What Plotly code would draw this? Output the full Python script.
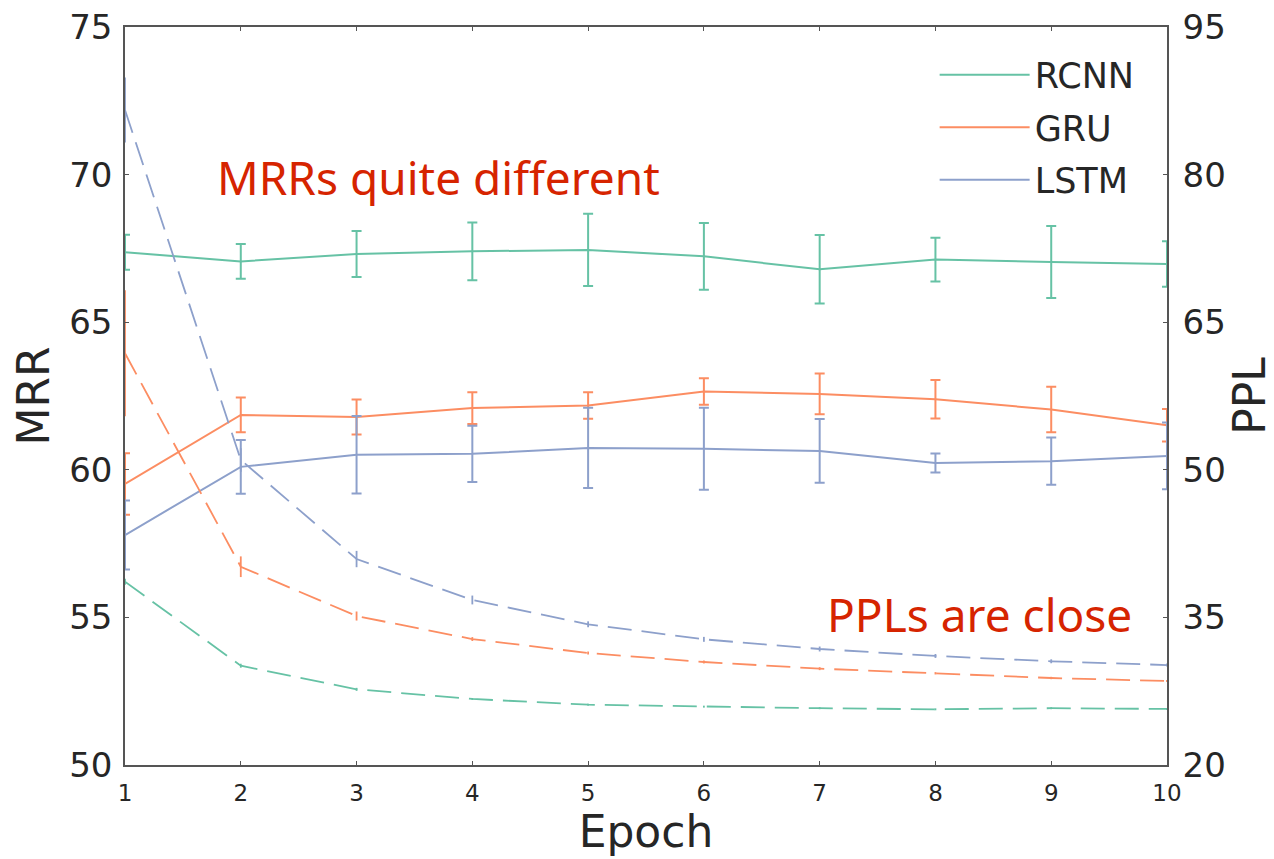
import plotly.graph_objects as go

epochs = [1, 2, 3, 4, 5, 6, 7, 8, 9, 10]

rcnn_mrr = [67.37, 67.06, 67.31, 67.40, 67.45, 67.23, 66.79, 67.12, 67.04, 66.97]
rcnn_mrr_err = [0.59, 0.59, 0.78, 0.98, 1.22, 1.13, 1.16, 0.74, 1.22, 0.77]
gru_mrr = [59.52, 61.86, 61.79, 62.09, 62.18, 62.65, 62.57, 62.39, 62.04, 61.51]
gru_mrr_err = [1.04, 0.59, 0.59, 0.54, 0.45, 0.45, 0.69, 0.65, 0.77, 0.55]
lstm_mrr = [57.79, 60.10, 60.51, 60.54, 60.74, 60.71, 60.64, 60.23, 60.29, 60.47]
lstm_mrr_err = [1.17, 0.91, 1.31, 0.95, 1.36, 1.39, 1.08, 0.32, 0.80, 1.13]

rcnn_ppl = [38.63, 30.09, 27.69, 26.71, 26.13, 25.93, 25.77, 25.66, 25.77, 25.70]
rcnn_ppl_err = [0.3, 0.2, 0.15, 0.1, 0.1, 0.1, 0.1, 0.1, 0.1, 0.1]
gru_ppl = [61.84, 40.15, 35.14, 32.80, 31.38, 30.47, 29.79, 29.32, 28.84, 28.54]
gru_ppl_err = [6.4, 1.05, 0.46, 0.2, 0.15, 0.15, 0.15, 0.12, 0.12, 0.1]
lstm_ppl = [86.57, 51.0, 40.93, 36.77, 34.30, 32.77, 31.79, 31.08, 30.54, 30.16]
lstm_ppl_err = [3.3, 1.2, 0.83, 0.45, 0.3, 0.25, 0.25, 0.2, 0.2, 0.15]

names = ["RCNN", "GRU", "LSTM"]
colors = ["#66c2a5", "#fc8d62", "#8da0cb"]
mrr = [rcnn_mrr, gru_mrr, lstm_mrr]
mrr_err = [rcnn_mrr_err, gru_mrr_err, lstm_mrr_err]
ppl = [rcnn_ppl, gru_ppl, lstm_ppl]
ppl_err = [rcnn_ppl_err, gru_ppl_err, lstm_ppl_err]

fig = go.Figure()

for i, name in enumerate(names):
    fig.add_trace(go.Scatter(
        x=epochs, y=mrr[i], mode="lines", name=name,
        line=dict(color=colors[i], width=2),
        error_y=dict(type="data", array=mrr_err[i], visible=True,
                     color=colors[i], thickness=2, width=5),
        legendgroup=name, showlegend=True, yaxis="y",
    ))

for i, name in enumerate(names):
    fig.add_trace(go.Scatter(
        x=epochs, y=ppl[i], mode="lines", name=name + " PPL",
        line=dict(color=colors[i], width=1.8, dash="24px,10px"),
        error_y=dict(type="data", array=ppl_err[i], visible=True,
                     color=colors[i], thickness=1.8, width=0),
        showlegend=False, yaxis="y2",
    ))

axis_color = "#555555"
font_main = "DejaVu Sans"
txt_color = "#262626"

fig.update_layout(
    width=1274, height=859,
    margin=dict(l=117, r=114.5, t=19, b=102, autoexpand=False),
    paper_bgcolor="white", plot_bgcolor="white",
    font=dict(family=font_main, color=txt_color),
    xaxis=dict(
        range=[1, 10], tickvals=epochs, showgrid=False, zeroline=False,
        showline=True, linecolor=axis_color, linewidth=1.5, mirror="ticks",
        ticks="inside", ticklen=4, tickcolor=axis_color, automargin=False,
        ticklabelstandoff=7, ticklabeloverflow="allow",
        tickfont=dict(size=23, color=txt_color),
        title=dict(text="Epoch", font=dict(size=44, color=txt_color), standoff=10),
    ),
    yaxis=dict(
        range=[50, 75], tickvals=[50, 55, 60, 65, 70, 75], showgrid=False,
        zeroline=False, showline=True, linecolor=axis_color, linewidth=1.5,
        ticks="inside", ticklen=4, tickcolor=axis_color, automargin=False,
        ticklabelstandoff=4, ticklabeloverflow="allow",
        tickfont=dict(size=34, color=txt_color),
        title=dict(text="MRR", font=dict(size=44, color=txt_color), standoff=6),
    ),
    yaxis2=dict(
        range=[20, 95], tickvals=[20, 35, 50, 65, 80, 95], overlaying="y",
        side="right", showgrid=False, zeroline=False, showline=True,
        linecolor=axis_color, linewidth=1.5, automargin=False,
        ticks="inside", ticklen=4, tickcolor=axis_color,
        ticklabelstandoff=7, ticklabeloverflow="allow",
        tickfont=dict(size=34, color=txt_color),
        title=dict(text="PPL", font=dict(size=44, color=txt_color), standoff=9),
    ),
    legend=dict(
        x=0.777, y=0.975, xanchor="left", yanchor="top",
        bgcolor="rgba(0,0,0,0)", font=dict(size=35, color=txt_color),
        tracegroupgap=4, itemwidth=90,
    ),
    annotations=[
        dict(text="MRRs quite different", xref="paper", yref="paper",
             x=0.086, y=0.797, xanchor="left", yanchor="middle", showarrow=False,
             font=dict(family="Noto Sans", size=46, color="#d62400")),
        dict(text="PPLs are close", xref="paper", yref="paper",
             x=0.968, y=0.205, xanchor="right", yanchor="middle", showarrow=False,
             font=dict(family="Noto Sans", size=46, color="#d62400")),
    ],
)

fig.write_html("out.html")
